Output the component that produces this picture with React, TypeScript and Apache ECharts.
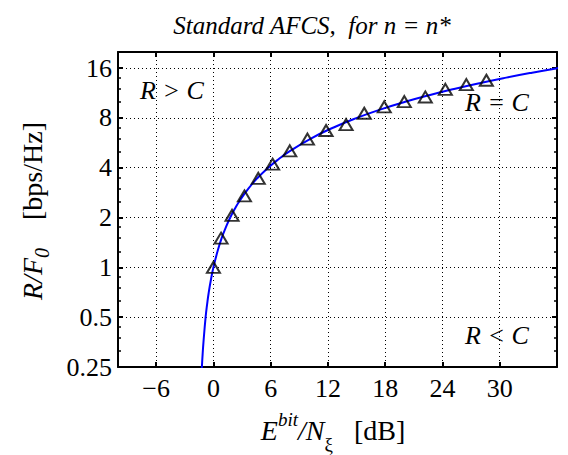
import React, { useEffect, useRef } from "react";
import * as echarts from "echarts";

// Curve: R/F0 (bps/Hz) vs Ebit/N (dB)
const curveEbN0 = [-1.29, -1.21, -1.13, -1.05, -0.82, -0.66, -0.5, -0.25, 0, 0.43, 0.86, 1.31, 1.76, 2.23, 2.7, 3.68, 4.69, 5.74, 6.82, 7.92, 10.21, 12.59, 15.03, 17.54, 20.1, 22.7, 25.33, 27.99, 30.68, 33.39, 36.12, 38.87];
const curveRate = [0.2, 0.25, 0.3, 0.35, 0.5, 0.6, 0.7, 0.85, 1, 1.25, 1.5, 1.75, 2, 2.25, 2.5, 3, 3.5, 4, 4.5, 5, 6, 7, 8, 9, 10, 11, 12, 13, 14, 15, 16, 17];

// Triangle markers
const markerEbN0 = [0, 0.8, 1.95, 3.25, 4.7, 6.2, 8.0, 9.85, 11.8, 13.9, 15.8, 17.9, 20.0, 22.2, 24.3, 26.5, 28.6];
const markerRate = [1, 1.5, 2.06, 2.7, 3.45, 4.2, 5.06, 5.95, 6.71, 7.29, 8.53, 9.32, 10.03, 10.7, 11.9, 12.7, 13.5];

const xTicks = [-6, 0, 6, 12, 18, 24, 30];
const xMin = -10;
const xMax = 36;
const yMin = 0.25;
const yMax = 20;

const FONT = "Liberation Serif";

function label(text: string, x: number, y: number, size: number) {
  return {
    type: "text",
    x,
    y,
    style: {
      text,
      fontFamily: FONT,
      fontStyle: "italic",
      fontSize: size,
      fill: "#000",
      textAlign: "center",
      textVerticalAlign: "middle",
    },
  };
}

export default function App() {
  const ref = useRef<HTMLDivElement>(null);
  useEffect(() => {
    if (!ref.current) return;
    const chart = echarts.init(ref.current, null, { renderer: "svg" });
    const gridLine = { show: true, lineStyle: { color: "#000", width: 1, type: [1, 3] } };
    const xAxisBase = {
      type: "value",
      min: xMin,
      max: xMax,
      axisLine: { show: true, onZero: false, lineStyle: { color: "#000", width: 2 } },
      axisTick: { show: true, inside: true, length: 5, customValues: xTicks, lineStyle: { color: "#000", width: 2 } },
    };
    const yAxisBase = {
      type: "log",
      logBase: 2,
      min: yMin,
      max: yMax,
      interval: 1,
      axisLine: { show: true, onZero: false, lineStyle: { color: "#000", width: 2 } },
      axisTick: { show: true, inside: true, length: 5, lineStyle: { color: "#000", width: 2 } },
      minorTick: { show: true, splitNumber: 4, length: 3, lineStyle: { color: "#000", width: 1.5 } },
    };
    const tickFont = { color: "#000", fontSize: 26, fontFamily: FONT };
    const lh = 48;
    chart.setOption({
      animation: false,
      backgroundColor: "#fff",
      textStyle: { fontFamily: FONT },
      grid: { left: 118, right: 11, top: 52, bottom: 88, containLabel: false },
      xAxis: [
        {
          ...xAxisBase,
          position: "bottom",
          splitLine: gridLine,
          axisLabel: {
            show: true,
            customValues: xTicks,
            ...tickFont,
            margin: 8,
            formatter: (v: number) => (v < 0 ? "\u2212" + Math.abs(v) : String(v)),
          },
        },
        {
          ...xAxisBase,
          position: "top",
          splitLine: { show: false },
          axisLabel: { show: false },
        },
      ],
      yAxis: [
        {
          ...yAxisBase,
          position: "left",
          splitLine: gridLine,
          axisLabel: {
            ...tickFont,
            margin: 6,
            formatter: (v: number) => String(v),
          },
        },
        {
          ...yAxisBase,
          position: "right",
          splitLine: { show: false },
          axisLabel: { show: false },
        },
      ],
      series: [
        {
          type: "line",
          data: curveEbN0.map((x, i) => [x, curveRate[i]]),
          smooth: true,
          showSymbol: false,
          symbol: "none",
          lineStyle: { color: "#0000ff", width: 2 },
          clip: true,
          z: 2,
        },
        {
          type: "scatter",
          data: markerEbN0.map((x, i) => [x, markerRate[i]]),
          symbol: "triangle",
          symbolSize: [13, 11],
          itemStyle: { color: "rgba(0,0,0,0)", borderColor: "#000", borderWidth: 2 },
          z: 3,
        },
      ],
      graphic: [
        label("Standard AFCS,  for n = n*", 312, 25, 25),
        label("R > C", 172, 90, 26),
        label("R = C", 497, 102, 26),
        label("R < C", 497, 335, 26),
        {
          type: "text",
          x: 333,
          y: 430,
          style: {
            text: "{it|E}{sup|bit}{it|/N}{sub|\u03be}{rm|   [dB]}",
            textAlign: "center",
            textVerticalAlign: "middle",
            fill: "#000",
            rich: {
              it: { fontFamily: FONT, fontStyle: "italic", fontSize: 28, lineHeight: lh, verticalAlign: "middle", fill: "#000" },
              rm: { fontFamily: FONT, fontSize: 28, lineHeight: lh, verticalAlign: "middle", fill: "#000" },
              sup: { fontFamily: FONT, fontStyle: "italic", fontSize: 19, lineHeight: lh, verticalAlign: "top", fill: "#000", padding: [4, 0, 0, 0] },
              sub: { fontFamily: FONT, fontSize: 19, lineHeight: lh, verticalAlign: "bottom", fill: "#000" },
            },
          },
        },
        {
          type: "text",
          x: 32,
          y: 211,
          rotation: Math.PI / 2,
          style: {
            text: "{it|R/F}{sub|0}{rm|    [bps/Hz]}",
            textAlign: "center",
            textVerticalAlign: "middle",
            fill: "#000",
            rich: {
              it: { fontFamily: FONT, fontStyle: "italic", fontSize: 28, lineHeight: 40, verticalAlign: "middle", fill: "#000" },
              rm: { fontFamily: FONT, fontSize: 28, lineHeight: 40, verticalAlign: "middle", fill: "#000" },
              sub: { fontFamily: FONT, fontStyle: "italic", fontSize: 20, lineHeight: 40, verticalAlign: "bottom", fill: "#000" },
            },
          },
        },
      ],
    });
    return () => chart.dispose();
  }, []);
  return (
    <div
      ref={ref}
      style={{ position: "fixed", left: 0, top: 0, width: 568, height: 455, background: "#fff" }}
    />
  );
}
